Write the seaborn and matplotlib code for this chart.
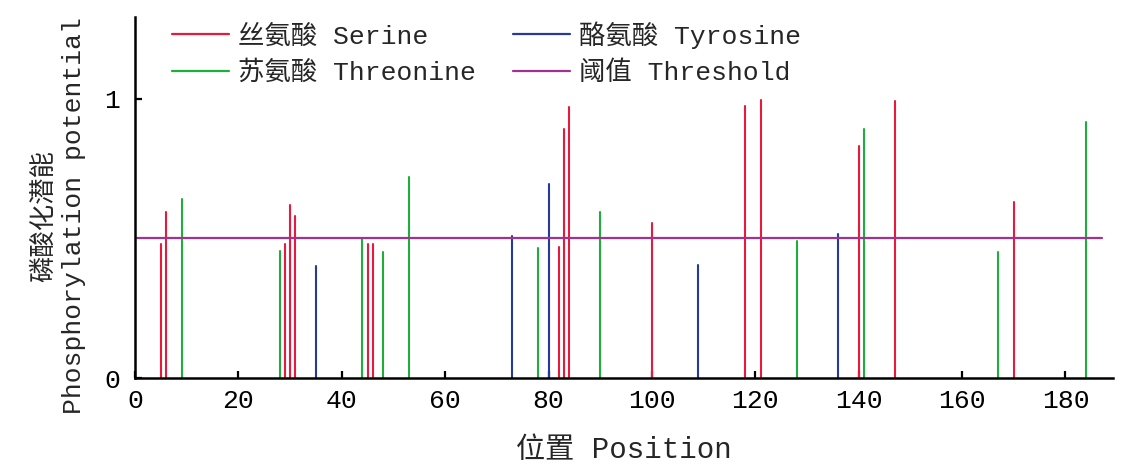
import matplotlib
matplotlib.use("Agg")
import matplotlib.pyplot as plt
from matplotlib.lines import Line2D
import seaborn as sns
import pandas as pd

# %% data
serine_pos = [5, 6, 29, 30, 31, 45, 46, 82, 83, 84, 100, 118, 121, 140, 147, 170]
serine_val = [0.48, 0.595, 0.48, 0.62, 0.58, 0.48, 0.48, 0.47, 0.89, 0.97,
              0.555, 0.975, 0.995, 0.83, 0.99, 0.63]
threonine_pos = [9, 28, 44, 48, 53, 78, 90, 128, 141, 167, 184]
threonine_val = [0.64, 0.455, 0.50, 0.45, 0.72, 0.465, 0.595, 0.49, 0.89, 0.45, 0.915]
tyrosine_pos = [35, 73, 80, 109, 136]
tyrosine_val = [0.40, 0.51, 0.695, 0.405, 0.515]
threshold = 0.5
threshold_span = [0.3, 187]

labels = {"Serine": "丝氨酸 Serine", "Threonine": "苏氨酸 Threonine",
          "Tyrosine": "酪氨酸 Tyrosine", "Threshold": "阈值 Threshold"}
colors = {"Serine": "#e8193c", "Threonine": "#1fae3c",
          "Tyrosine": "#26399e", "Threshold": "#a2318f"}

# %% long table: each stem is two points (pos, 0) -> (pos, value)
rows = []
for name, pos, val in [("Serine", serine_pos, serine_val),
                       ("Threonine", threonine_pos, threonine_val),
                       ("Tyrosine", tyrosine_pos, tyrosine_val)]:
    for p, v in zip(pos, val):
        site = "%s_%d" % (name, p)
        rows.append({"site": site, "kind": name, "pos": p, "val": 0.0})
        rows.append({"site": site, "kind": name, "pos": p, "val": v})
stems = pd.DataFrame(rows)

# %% plot
sns.set_theme(style="ticks")
plt.rcParams["font.family"] = ["Liberation Mono", "Noto Sans CJK SC"]
plt.rcParams["axes.unicode_minus"] = False

fig = plt.figure(figsize=(11.3, 4.72), dpi=100)
ax = fig.add_axes([0.1195, 0.1985, 0.8655, 0.7645])

sns.lineplot(data=stems, x="pos", y="val", hue="kind", units="site",
             estimator=None, sort=False, palette=colors, linewidth=1.5,
             legend=False, ax=ax)
ax.plot(threshold_span, [threshold, threshold], color=colors["Threshold"],
        linewidth=1.6)

ax.set_xlim(0, 189.2)
ax.set_ylim(0, 1.29)
ax.set_xticks(range(0, 181, 20))
ax.set_yticks([0, 1])
ax.set_yticklabels(["0", "1"])
ax.tick_params(direction="in", length=5, width=1.6, labelsize=19, colors="black")
ax.tick_params(axis="x", pad=8)
ax.tick_params(axis="y", pad=11)
for s in ["top", "right"]:
    ax.spines[s].set_visible(False)
for s in ["left", "bottom"]:
    ax.spines[s].set_linewidth(1.8)
    ax.spines[s].set_color("black")

ax.set_xlabel("位置 Position", fontsize=21, labelpad=16)
ax.set_ylabel("磷酸化潜能\nPhosphorylation potential", fontsize=19, linespacing=1.3)
ax.yaxis.set_label_coords(-0.05, 0.45)

handles = [Line2D([], [], color=colors[k], linewidth=1.6)
           for k in ["Serine", "Threonine", "Tyrosine", "Threshold"]]
texts = [labels[k] for k in ["Serine", "Threonine", "Tyrosine", "Threshold"]]
ax.legend(handles, texts, ncol=2, loc="upper left", frameon=False,
          bbox_to_anchor=(0.038, 0.99), borderaxespad=0, borderpad=0,
          fontsize=19, handlelength=2.15, handletextpad=0.35,
          labelspacing=0.45, columnspacing=1.4)

fig.savefig("out.png", dpi=100)
